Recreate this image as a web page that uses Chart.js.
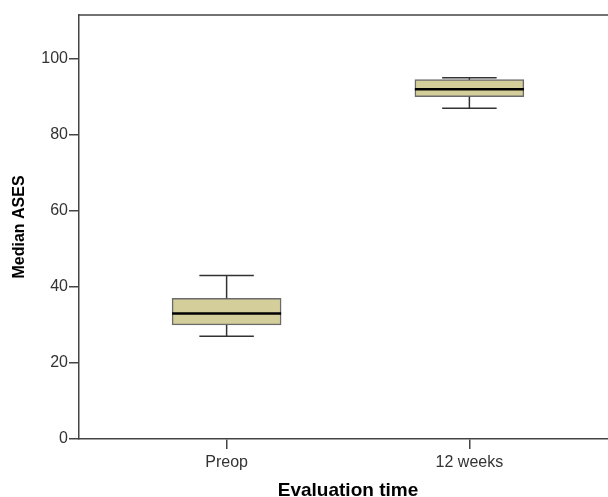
<!DOCTYPE html>
<html>
<head>
<meta charset="utf-8">
<script src="https://cdn.jsdelivr.net/npm/chart.js@4/dist/chart.umd.min.js"></script>
<style>
  html, body { margin: 0; padding: 0; background: #fff; overflow: hidden; }
  canvas { display: block; }
</style>
</head>
<body>
<canvas id="boxChart" width="620" height="510"></canvas>
<script>
// data
const categories = ["Preop", "12 weeks"];
const whiskerLow = [27, 87];
const q1 = [30, 90];
const median = [33, 92];
const q3 = [37, 94.5];
const whiskerHigh = [43, 95];
const yTicks = [0, 20, 40, 60, 80, 100];

const FONT = "'Liberation Sans', Arial, sans-serif";
const AXIS_COLOR = "#444";

// median + whiskers, drawn from the bar elements and the y scale
const boxExtras = {
  id: "boxExtras",
  afterDatasetsDraw(chart) {
    const ctx = chart.ctx;
    const y = chart.scales.y;
    const bars = chart.getDatasetMeta(0).data;
    ctx.save();
    bars.forEach((bar, i) => {
      const cx = bar.x;
      const half = bar.width / 2;
      const cap = bar.width / 4;
      // whiskers
      ctx.strokeStyle = "#333";
      ctx.lineWidth = 1.5;
      ctx.beginPath();
      ctx.moveTo(cx, y.getPixelForValue(q3[i]));
      ctx.lineTo(cx, y.getPixelForValue(whiskerHigh[i]));
      ctx.moveTo(cx - cap, y.getPixelForValue(whiskerHigh[i]));
      ctx.lineTo(cx + cap, y.getPixelForValue(whiskerHigh[i]));
      ctx.moveTo(cx, y.getPixelForValue(q1[i]));
      ctx.lineTo(cx, y.getPixelForValue(whiskerLow[i]));
      ctx.moveTo(cx - cap, y.getPixelForValue(whiskerLow[i]));
      ctx.lineTo(cx + cap, y.getPixelForValue(whiskerLow[i]));
      ctx.stroke();
      // median
      ctx.strokeStyle = "#000";
      ctx.lineWidth = 2.5;
      ctx.beginPath();
      ctx.moveTo(cx - half, y.getPixelForValue(median[i]));
      ctx.lineTo(cx + half, y.getPixelForValue(median[i]));
      ctx.stroke();
    });
    // top frame line
    const a = chart.chartArea;
    ctx.strokeStyle = AXIS_COLOR;
    ctx.lineWidth = 1.5;
    ctx.beginPath();
    ctx.moveTo(a.left, a.top);
    ctx.lineTo(a.right, a.top);
    ctx.lineTo(a.right, a.bottom);
    ctx.stroke();
    ctx.restore();
  }
};

new Chart(document.getElementById("boxChart"), {
  type: "bar",
  data: {
    datasets: [{
      data: categories.map((c, i) => ({ x: i + 1, y: [q1[i], q3[i]] })),
      backgroundColor: "#d4cf9a",
      borderColor: "#6b6b6b",
      borderWidth: 1.5,
      borderSkipped: false,
      barThickness: 109
    }]
  },
  plugins: [boxExtras],
  options: {
    responsive: false,
    animation: false,
    layout: { padding: { top: 15, left: 0, right: 3, bottom: 0 } },
    plugins: { legend: { display: false }, tooltip: { enabled: false } },
    scales: {
      x: {
        type: "linear",
        offset: false,
        min: 0.392,
        max: 2.608,
        afterFit: (s) => { s.height = 71; },
        afterBuildTicks: (s) => { s.ticks = categories.map((c, i) => ({ value: i + 1 })); },
        ticks: {
          callback: (v) => categories[v - 1],
          font: { family: FONT, size: 16 },
          color: "#333",
          padding: 4,
          maxRotation: 0,
          autoSkip: false
        },
        grid: { offset: false, drawOnChartArea: false, tickLength: 10, color: AXIS_COLOR, lineWidth: 1.5 },
        border: { color: AXIS_COLOR, width: 1.5 },
        title: {
          display: true,
          text: "Evaluation time",
          font: { family: FONT, size: 19, weight: "bold" },
          color: "#000",
          padding: { top: 0, bottom: 8 }
        }
      },
      y: {
        min: 0,
        max: 111.5,
        afterFit: (s) => { s.width = 79; },
        afterBuildTicks: (s) => { s.ticks = yTicks.map((v) => ({ value: v })); },
        ticks: {
          font: { family: FONT, size: 16 },
          color: "#333",
          padding: 1
        },
        grid: { drawOnChartArea: false, tickLength: 10, color: AXIS_COLOR, lineWidth: 1.5 },
        border: { color: AXIS_COLOR, width: 1.5 },
        title: {
          display: true,
          text: "Median ASES",
          font: { family: FONT, size: 16, weight: "bold" },
          color: "#000",
          padding: { top: 10, bottom: 0 }
        }
      }
    }
  }
});
</script>
</body>
</html>
